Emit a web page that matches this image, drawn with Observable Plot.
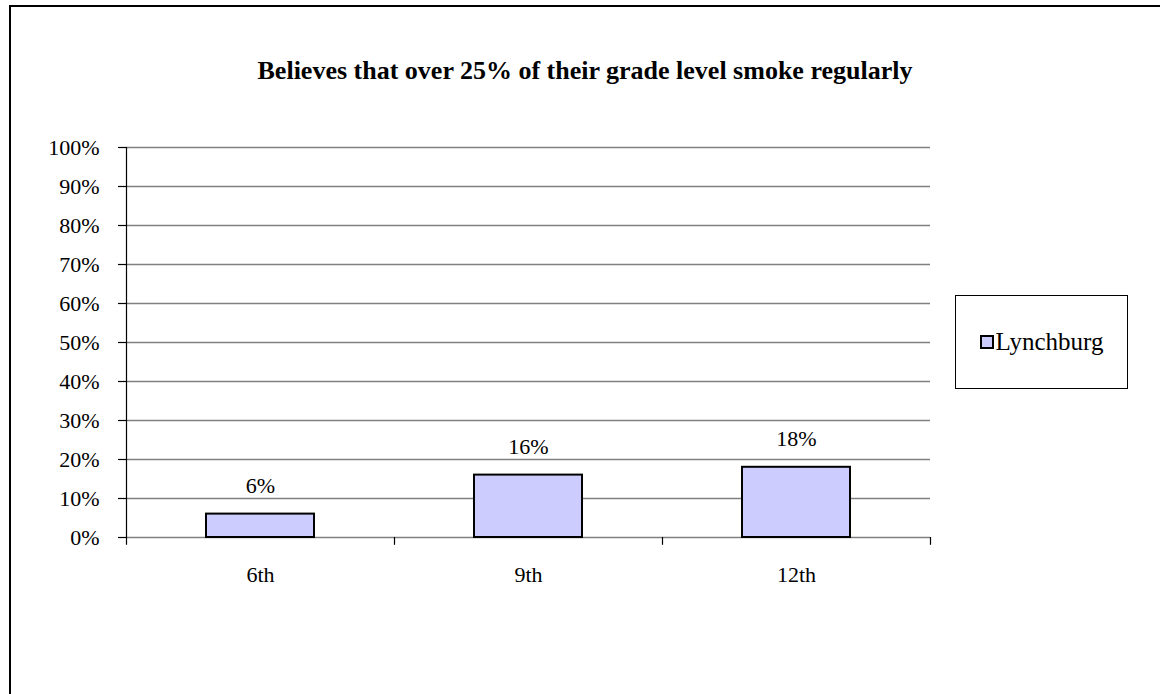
<!DOCTYPE html>
<html>
<head>
<meta charset="utf-8">
<script src="https://cdn.jsdelivr.net/npm/d3@7"></script>
<script src="https://cdn.jsdelivr.net/npm/@observablehq/plot@0.6"></script>
<style>
  body { margin: 0; background: #fff; }
  #wrap { position: relative; width: 1160px; height: 694px; overflow: hidden; background: #fff;
          font-family: "Liberation Serif", "Times New Roman", serif; color: #000; }
  #frame { position: absolute; left: 9px; top: 5px; width: 1300px; height: 900px;
           border-left: 2px solid #000; border-top: 2px solid #000; }
  #chart { position: absolute; left: 0; top: 0; }
  #title { position: absolute; left: 10px; width: 1150px; top: 58px; line-height: 26px;
           text-align: center; font-weight: bold; font-size: 26px; }
  #legend { position: absolute; left: 955px; top: 295px; width: 171px; height: 92px;
            border: 1px solid #000; display: flex; align-items: center; justify-content: center;
            font-size: 25px; background: #fff; }
  #legend .sw { display: inline-block; width: 10px; height: 10px; background: #ccccff;
                border: 2px solid #000; margin-right: 2px; }
</style>
</head>
<body>
<div id="wrap">
  <div id="frame"></div>
  <div id="chart"></div>
  <div id="title"></div>
  <div id="legend"></div>
</div>
<script>
// ---- data ----
const titleText = "Believes that over 25% of their grade level smoke regularly";
const seriesName = "Lynchburg";
const categories = ["6th", "9th", "12th"];
const values = [0.06, 0.16, 0.18];
const yTicks = [0, 0.1, 0.2, 0.3, 0.4, 0.5, 0.6, 0.7, 0.8, 0.9, 1.0];
const yTickLabels = ["0%", "10%", "20%", "30%", "40%", "50%", "60%", "70%", "80%", "90%", "100%"];

const data = categories.map((c, i) => ({grade: c, value: values[i]}));
const pct = v => yTickLabels[yTicks.findIndex(t => Math.abs(t - v) < 1e-9)] ?? (Math.round(v * 100) + "%");

const W = 1160, H = 694;
const mL = 126, mR = 230, mT = 147, mB = 157;
const step = (W - mL - mR) / categories.length;

const chart = Plot.plot({
  width: W,
  height: H,
  marginLeft: mL,
  marginRight: mR,
  marginTop: mT,
  marginBottom: mB,
  style: {fontFamily: '"Liberation Serif", "Times New Roman", serif', fontSize: "22px", background: "transparent", color: "#000"},
  x: {domain: categories, paddingInner: 0.597, paddingOuter: 0.2985, label: null},
  y: {domain: [0, 1], label: null},
  marks: [
    Plot.gridY(yTicks, {stroke: "#808080", strokeOpacity: 1, strokeWidth: 1.5}),
    // y axis line (left boundary of the first category band)
    Plot.ruleX([categories[0]], {dx: -step / 2, y1: -0.02, y2: 1, stroke: "#000", strokeWidth: 1.2}),
    // category boundary ticks
    Plot.ruleX(categories.slice(1), {dx: -step / 2, y1: -0.02, y2: 0, stroke: "#000", strokeWidth: 1.2}),
    Plot.ruleX([categories[categories.length - 1]], {dx: step / 2, y1: -0.02, y2: 0, stroke: "#000", strokeWidth: 1.2}),
    Plot.barY(data, {x: "grade", y: "value", fill: "#ccccff", stroke: "#000", strokeWidth: 2}),
    Plot.text(data, {x: "grade", y: "value", text: d => pct(d.value), dy: -28, fontSize: 22, fill: "#000"}),
    Plot.axisY(yTicks, {tickFormat: pct, tickSize: 8, tickPadding: 19, fontSize: 22, label: null, stroke: "#000", strokeWidth: 1.2}),
    Plot.axisX({tickSize: 0, tickPadding: 29, fontSize: 22, label: null})
  ]
});
document.getElementById("chart").appendChild(chart);
document.getElementById("title").textContent = titleText;
document.getElementById("legend").innerHTML = '<span class="sw"></span><span></span>';
document.querySelector("#legend span:last-child").textContent = seriesName;
</script>
</body>
</html>
